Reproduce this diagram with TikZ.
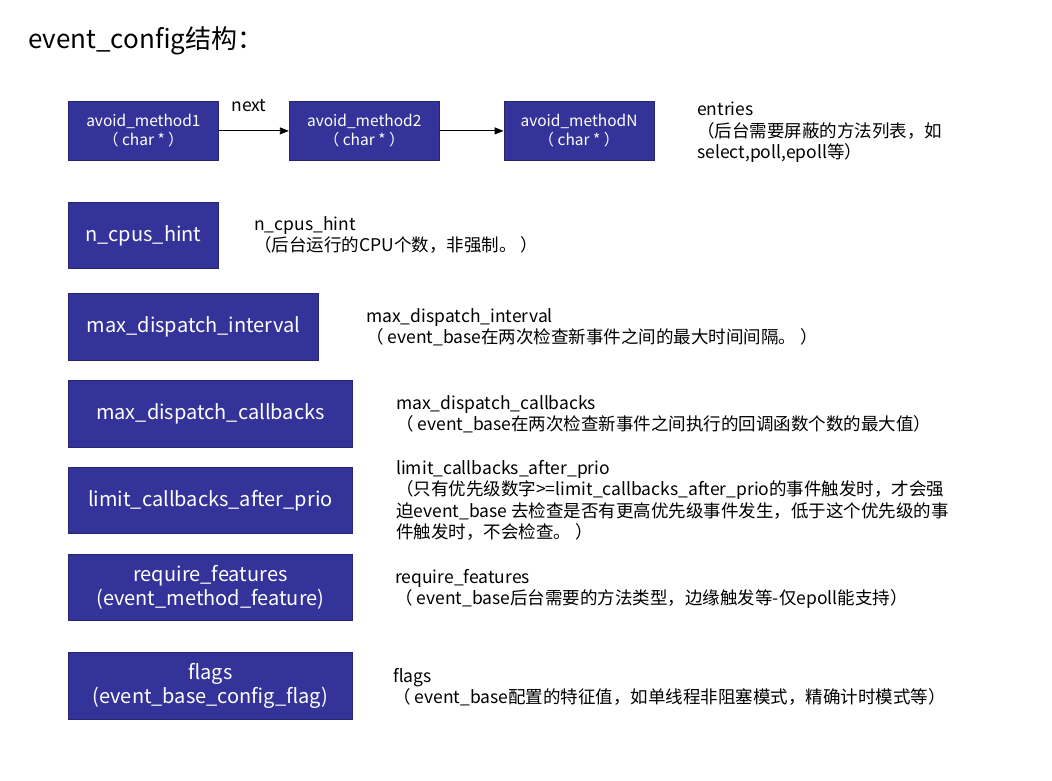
\documentclass[tikz,border=0pt]{standalone}
\usepackage{fontspec}
\setmainfont{Noto Sans CJK SC}
\usepackage{xcolor}
\usetikzlibrary{arrows.meta,positioning}
\definecolor{boxblue}{RGB}{51,51,153}
\definecolor{boxline}{RGB}{38,38,115}

\begin{document}
\begin{tikzpicture}[x=1pt,y=-1pt,
			box/.style={draw=boxline,line width=0.8pt,fill=boxblue,text=white,align=center,inner sep=0pt,minimum height=66pt,font=\fontsize{20}{24}\selectfont},
			smallbox/.style={box,minimum width=150pt,minimum height=59pt,font=\fontsize{15.5}{19}\selectfont},
			note/.style={align=left,anchor=north west,inner sep=0pt,font=\fontsize{17.5}{21.5}\selectfont},
			arrow/.style={-{Triangle[length=9pt,width=7pt]},line width=0.9pt}
			]
			\useasboundingbox (0,0) rectangle (1052,780);
			\node[anchor=base west,inner sep=0pt,font=\fontsize{26}{30}\selectfont] (title) at (28,48) {event\_config结构：};
			% entries list
			\node[smallbox,anchor=north west] (m1) at (68,101) {avoid\_method1\\（ char * ）};
			\node[smallbox,right=70pt of m1] (m2) {avoid\_method2\\（ char * ）};
			\node[smallbox,right=64pt of m2] (mN) {avoid\_methodN\\（ char * ）};
			\node[note,anchor=center] (next) at (249,106) {next};
			\draw[arrow] (m1)--(m2);
			\draw[arrow] (m2)--(mN);
			\node[note] (entries) at (697,102) {entries\\（后台需要屏蔽的方法列表，如\\select,poll,epoll等）};
			% other fields
			\node[box,anchor=north west,minimum width=150pt] (cpus) at (68,202) {n\_cpus\_hint};
			\node[box,anchor=north west,minimum width=250pt,minimum height=67pt] (interval) at (68,293) {max\_dispatch\_interval};
			\node[box,anchor=north west,minimum width=284pt,minimum height=67pt] (callbacks) at (68,380) {max\_dispatch\_callbacks};
			\node[box,anchor=north west,minimum width=284pt] (prio) at (68,467) {limit\_callbacks\_after\_prio};
			\node[box,anchor=north west,minimum width=284pt] (features) at (68,554) {require\_features\\(event\_method\_feature)};
			\node[box,anchor=north west,minimum width=284pt,minimum height=67pt] (flags) at (68,652) {flags\\(event\_base\_config\_flag)};
			\node[note] (cpusnote) at (254,216) {n\_cpus\_hint\\（后台运行的CPU个数，非强制。 ）};
			\node[note] (intervalnote) at (366,308) {max\_dispatch\_interval\\（ event\_base在两次检查新事件之间的最大时间间隔。 ）};
			\node[note] (callbacksnote) at (396,395) {max\_dispatch\_callbacks\\（ event\_base在两次检查新事件之间执行的回调函数个数的最大值）};
			\node[note] (prionote) at (396,460) {limit\_callbacks\_after\_prio\\（只有优先级数字>=limit\_callbacks\_after\_prio的事件触发时，才会强\\迫event\_base 去检查是否有更高优先级事件发生，低于这个优先级的事\\件触发时，不会检查。 ）};
			\node[note] (featuresnote) at (395,569) {require\_features\\（ event\_base后台需要的方法类型，边缘触发等-仅epoll能支持）};
			\node[note] (flagsnote) at (393,668) {flags\\（ event\_base配置的特征值，如单线程非阻塞模式，精确计时模式等）};
		\end{tikzpicture}
\end{document}
